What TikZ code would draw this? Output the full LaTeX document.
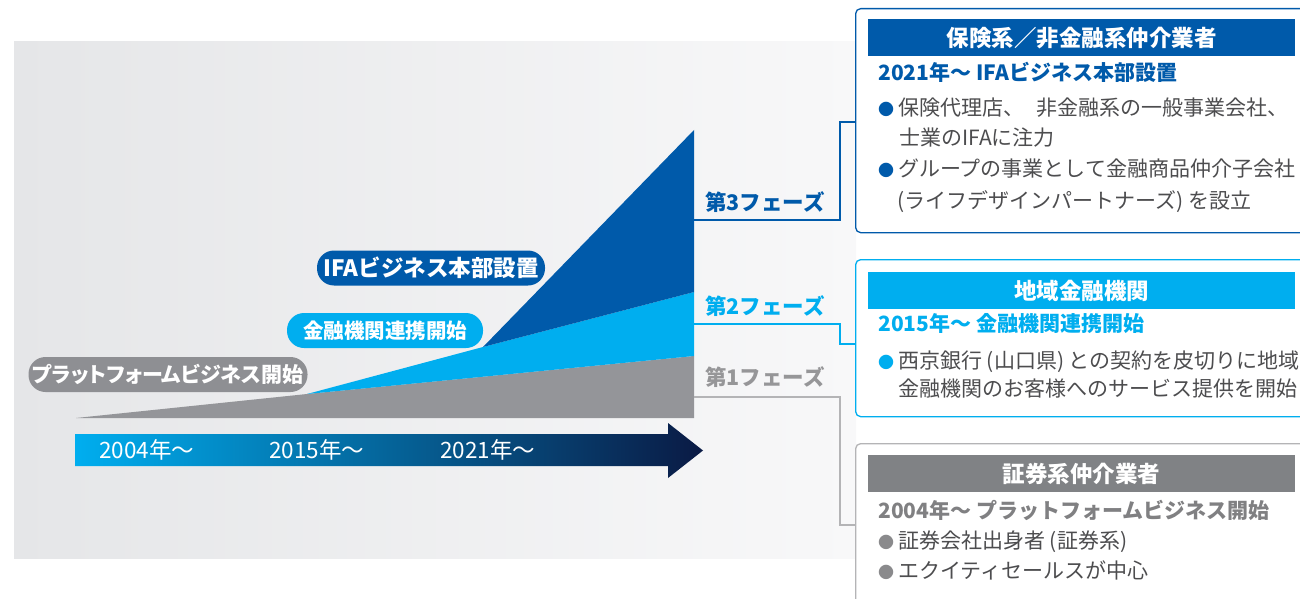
\documentclass[tikz,border=0pt]{standalone}
\usepackage{fontspec}
\setmainfont{Noto Sans CJK JP}
\newfontfamily\jpp[RawFeature=+palt]{Noto Sans CJK JP}
\usetikzlibrary{calc}
\definecolor{dblue}{RGB}{0,90,170}
\definecolor{lblue}{RGB}{0,174,239}
\definecolor{gwedge}{RGB}{148,149,153}
\definecolor{gpill}{RGB}{142,143,147}
\definecolor{ghead}{RGB}{128,130,133}
\definecolor{navy}{RGB}{10,26,68}
\definecolor{txt}{RGB}{77,77,79}
\definecolor{gtitle}{RGB}{128,128,130}
\definecolor{gphase}{RGB}{150,150,152}
\definecolor{gline}{RGB}{180,180,182}
\definecolor{gbullet}{RGB}{138,138,140}
\definecolor{bgL}{RGB}{229,230,232}
\definecolor{bgR}{RGB}{248,248,249}
\newcommand{\bul}[1]{{\color{#1}\fontsize{16}{16}\selectfont ●}\hspace{4pt}}
\tikzset{
  pill/.style={rounded corners=17pt, text=white, inner sep=0pt, minimum height=35pt},
  head/.style={anchor=north west, text=white, minimum width=427pt, minimum height=37pt, inner sep=0pt, font=\bfseries\fontsize{22.5}{26}\selectfont},
  frame/.style={draw, rounded corners=5pt, line width=1.3pt, fill=white, anchor=north west, minimum width=470pt, inner sep=0pt},
  bodyline/.style={anchor=base west, inner sep=0pt, font=\fontsize{21}{25}\selectfont, text=txt},
  ttl/.style={anchor=base west, inner sep=0pt, font=\bfseries\fontsize{21}{25}\selectfont},
  phase/.style={anchor=base west, inner sep=0pt, font=\bfseries\fontsize{21.5}{25}\selectfont},
  yr/.style={anchor=base west, inner sep=0pt, text=white, font=\fontsize{22.5}{26}\selectfont},
  conn/.style={line width=1.3pt},
}
\begin{document}
\begin{tikzpicture}[x=1pt,y=-1pt]
\useasboundingbox (0,0) rectangle (1300,599);
\fill[white] (0,0) rectangle (1300,599);
% background
\shade[left color=bgL, right color=bgR] (14,42) rectangle (856,558);
% wedges
\fill[gwedge] (76,418) -- (307,394) -- (694,356) -- (694,418) -- cycle;
\fill[lblue] (307,394) -- (483,347) -- (694,292) -- (694,356) -- cycle;
\fill[dblue] (483,347) -- (694,130) -- (694,292) -- cycle;
% pills
\node[pill, fill=dblue, minimum width=228pt, font=\bfseries\fontsize{22.5}{26}\selectfont] (p3) at (431,268) {IFAビジネス本部設置};
\node[pill, fill=lblue, minimum width=196pt, font=\bfseries\fontsize{20.5}{24}\selectfont] (p2) at (385,330.5) {金融機関連携開始};
\node[pill, fill=gpill, minimum width=279pt, font=\jpp\bfseries\fontsize{21}{24}\selectfont] (p1) at (168,374.5) {プラットフォームビジネス開始};
% timeline arrow
\shade[left color=lblue, right color=navy] (75,434) -- (668,434) -- (668,423) -- (703,450.5) -- (668,478) -- (668,466) -- (75,466) -- cycle;
\node[yr] (y1) at (99,458.5) {2004年～};
\node[yr] (y2) at (269,458.5) {2015年～};
\node[yr] (y3) at (440,458.5) {2021年～};
% phase labels
\node[phase, text=dblue] (ph3) at (705,210) {第3フェーズ};
\node[phase, text=lblue] (ph2) at (705,314) {第2フェーズ};
\node[phase, text=gphase] (ph1) at (705,385) {第1フェーズ};
% boxes
\node[frame, draw=dblue, minimum height=224pt] (box3) at (855,8) {};
\node[frame, draw=lblue, minimum height=157pt] (box2) at (855,259) {};
\node[frame, draw=gline, minimum height=200pt] (box1) at (855,443) {};
% connectors
\coordinate (e3) at (694,220);
\coordinate (e2) at (694,324);
\coordinate (e1) at (694,397);
\draw[conn, dblue] (e3) -- ++(146,0) |- ($(box3.north west)+(0,114)$);
\draw[conn, lblue] (e2) -- ++(146,0) |- ($(box2.north west)+(0,85)$);
\draw[conn, gline] (e1) -- ++(146,0) |- ($(box1.north west)+(0,82)$);
% box 3 content
\node[head, fill=dblue] (h3) at (868,19) {保険系／非金融系仲介業者};
\node[ttl, text=dblue] (t3) at (878,81) {2021年～ IFAビジネス本部設置};
\node[bodyline] (b31) at (878,116) {\bul{dblue}保険代理店、\hspace{0.6em}非金融系の一般事業会社、};
\node[bodyline] (b32) at (899,146) {士業のIFAに注力};
\node[bodyline] (b33) at (878,176) {\bul{dblue}グループの事業として金融商品仲介子会社};
\node[bodyline] (b34) at (897,208) {(ライフデザインパートナーズ) を設立};
% box 2 content
\node[head, fill=lblue] (h2) at (868,272) {地域金融機関};
\node[ttl, text=lblue] (t2) at (878,331) {2015年～ 金融機関連携開始};
\node[bodyline] (b21) at (878,368) {\bul{lblue}西京銀行 (山口県) との契約を皮切りに地域};
\node[bodyline] (b22) at (898,396) {金融機関のお客様へのサービス提供を開始};
% box 1 content
\node[head, fill=ghead] (h1) at (868,455) {証券系仲介業者};
\node[ttl, text=gtitle] (t1) at (878,518) {2004年～ プラットフォームビジネス開始};
\node[bodyline] (b11) at (878,548) {\bul{gbullet}証券会社出身者 (証券系)};
\node[bodyline] (b12) at (878,578) {\bul{gbullet}エクイティセールスが中心};
\end{tikzpicture}
\end{document}
